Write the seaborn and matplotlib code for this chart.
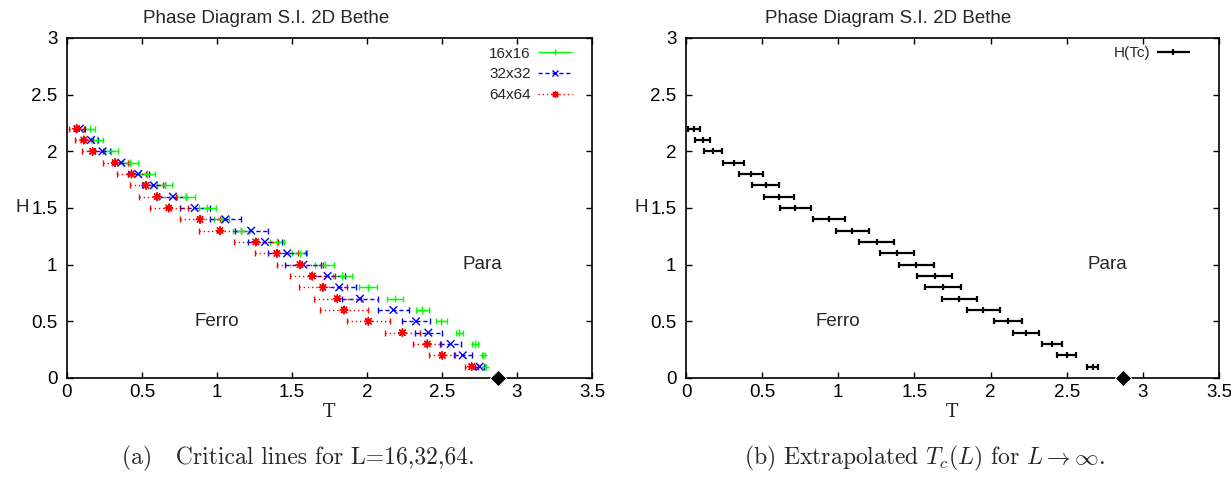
import matplotlib
matplotlib.use("Agg")
import matplotlib.pyplot as plt
import seaborn as sns
import pandas as pd
from matplotlib.legend_handler import HandlerErrorbar
from matplotlib.container import ErrorbarContainer

# %%
# Data (field H vs critical temperature T)
H = [2.2, 2.1, 2.0, 1.9, 1.8, 1.7, 1.6, 1.5, 1.4, 1.3, 1.2,
     1.1, 1.0, 0.9, 0.8, 0.7, 0.6, 0.5, 0.4, 0.3, 0.2, 0.1]

T16 = [0.15, 0.20, 0.295, 0.42, 0.535, 0.65, 0.795, 0.935, 1.03, 1.16, 1.40,
       1.553, 1.718, 1.836, 2.009, 2.184, 2.369, 2.496, 2.616, 2.722, 2.775, 2.785]
E16 = [0.035, 0.04, 0.045, 0.05, 0.05, 0.05, 0.06, 0.055, 0.05, 0.05, 0.045,
       0.05, 0.062, 0.065, 0.06, 0.053, 0.044, 0.039, 0.025, 0.02, 0.01, 0.008]

T32 = [0.085, 0.16, 0.237, 0.362, 0.475, 0.578, 0.706, 0.851, 1.055, 1.228, 1.32,
       1.468, 1.576, 1.737, 1.815, 1.953, 2.176, 2.327, 2.409, 2.558, 2.638, 2.751]
E32 = [0.035, 0.045, 0.05, 0.06, 0.07, 0.075, 0.09, 0.1, 0.105, 0.11, 0.115,
       0.125, 0.12, 0.115, 0.11, 0.12, 0.105, 0.096, 0.09, 0.07, 0.06, 0.03]

T64 = [0.065, 0.112, 0.171, 0.321, 0.43, 0.527, 0.601, 0.679, 0.887, 1.02, 1.259,
       1.399, 1.553, 1.635, 1.706, 1.802, 1.847, 2.009, 2.236, 2.402, 2.502, 2.698]
E64 = [0.05, 0.06, 0.071, 0.084, 0.096, 0.11, 0.124, 0.129, 0.133, 0.14, 0.145,
       0.144, 0.151, 0.149, 0.16, 0.156, 0.158, 0.142, 0.116, 0.093, 0.087, 0.044]

# extrapolated L -> infinity
Tinf = [0.055, 0.11, 0.177, 0.313, 0.425, 0.523, 0.61, 0.718, 0.939, 1.092, 1.252,
        1.385, 1.512, 1.633, 1.687, 1.793, 1.952, 2.114, 2.233, 2.405, 2.5, 2.672]
Einf = [0.039, 0.048, 0.058, 0.068, 0.08, 0.089, 0.096, 0.103, 0.106, 0.11, 0.113,
        0.113, 0.115, 0.115, 0.117, 0.115, 0.107, 0.094, 0.087, 0.067, 0.061, 0.036]

Tc = [2.87]
Hc = [0.0]

sizes = ["16x16", "32x32", "64x64"]
colors = {"16x16": "#00ff00", "32x32": "#0000ff", "64x64": "#ff0000"}
markers = {"16x16": "+", "32x32": "x", "64x64": (8, 2, 0)}
styles = {"16x16": "-", "32x32": (0, (3, 2)), "64x64": (0, (1, 2))}

df = pd.concat([
    pd.DataFrame({"T": T16, "H": H, "err": E16, "L": "16x16"}),
    pd.DataFrame({"T": T32, "H": H, "err": E32, "L": "32x32"}),
    pd.DataFrame({"T": T64, "H": H, "err": E64, "L": "64x64"}),
])
df_inf = pd.DataFrame({"T": Tinf, "H": H, "err": Einf})

# %%
sns.set_style("ticks")
plt.rcParams['font.family'] = ['Liberation Sans', 'DejaVu Sans']
plt.rcParams['mathtext.fontset'] = 'cm'
size = 13.5

fig = plt.figure(figsize=(12.31, 4.79), dpi=100)
ax1 = fig.add_axes([67/1231, 1-378/479, 525/1231, 340/479])
ax2 = fig.add_axes([686/1231, 1-378/479, 533/1231, 340/479])


def style_axis(ax):
    ax.set_xlim(0, 3.5)
    ax.set_ylim(0, 3)
    ax.set_xticks([0, 0.5, 1, 1.5, 2, 2.5, 3, 3.5])
    ax.set_xticklabels(["0", "0.5", "1", "1.5", "2", "2.5", "3", "3.5"])
    ax.set_yticks([0, 0.5, 1, 1.5, 2, 2.5, 3])
    ax.set_yticklabels(["0", "0.5", "1", "1.5", "2", "2.5", "3"])
    ax.tick_params(direction='in', top=True, right=True, length=4.5, width=1,
                   labelsize=size, colors='black')
    ax.tick_params(axis='y', pad=7)
    ax.tick_params(axis='x', pad=4)
    for sp in ax.spines.values():
        sp.set_linewidth(1.2)
        sp.set_color('black')
    ax.set_title("Phase Diagram S.I. 2D Bethe", fontsize=size, x=0.38, pad=11)
    ax.set_xlabel("T", fontsize=size, family='DejaVu Serif', labelpad=2)
    ax.set_ylabel("H", fontsize=size, rotation=0, labelpad=6, va='center')
    ax.text(2.77, 1.0, "Para", fontsize=size, ha='center', va='center')
    ax.text(1.0, 0.5, "Ferro", fontsize=size, ha='center', va='center')
    sns.scatterplot(x=Tc, y=Hc, marker='D', s=70, color='black', ax=ax,
                    clip_on=False, zorder=10, legend=False)


# %%
# left panel: finite size critical lines
handles = []
for L in sizes:
    d = df[df.L == L]
    cont = ax1.errorbar(d["T"], d["H"], xerr=d["err"], fmt='none', ecolor=colors[L],
                        elinewidth=1, capsize=2.5, capthick=1)
    cont[2][0].set_linestyle(styles[L])
    # empty errorbar only used as legend handle
    proxy = ax1.errorbar([], [], xerr=[], marker=markers[L], ls='none',
                         color=colors[L], ms=5, mew=1, elinewidth=1, capsize=2.5,
                         capthick=1)
    proxy[2][0].set_linestyle(styles[L])
    handles.append(proxy)

sns.scatterplot(data=df, x="T", y="H", hue="L", style="L", palette=colors,
                markers=markers, s=30, linewidth=1, legend=False, ax=ax1, zorder=5)

ax1.legend(handles, sizes, loc='upper right', bbox_to_anchor=(0.962, 0.975),
           frameon=False, markerfirst=False, fontsize=size - 2.5,
           handlelength=2.2, handletextpad=0.5, labelspacing=0.45,
           borderaxespad=0, borderpad=0,
           handler_map={ErrorbarContainer: HandlerErrorbar(xerr_size=1.1)})
style_axis(ax1)

# %%
# right panel: extrapolated Tc(L)
ax2.errorbar(df_inf["T"], df_inf["H"], xerr=df_inf["err"], fmt='none', ecolor='black',
             elinewidth=1.6, capsize=2.5, capthick=1.6)
sns.scatterplot(data=df_inf, x="T", y="H", marker='|', s=25, color='black',
                linewidth=1.6, legend=False, ax=ax2, zorder=5)
proxy = ax2.errorbar([], [], xerr=[], marker='|', ls='none', color='black', ms=5,
                     mew=1.6, elinewidth=1.6, capsize=2.5, capthick=1.6)
ax2.legend([proxy], ["H(Tc)"], loc='upper right', bbox_to_anchor=(0.946, 0.975),
           frameon=False, markerfirst=False, fontsize=size - 2.5,
           handlelength=2.2, handletextpad=0.4, borderaxespad=0, borderpad=0,
           handler_map={ErrorbarContainer: HandlerErrorbar(xerr_size=1.1)})
style_axis(ax2)

# %%
# captions
fig.text(298/1231, 1-458/479, "(a)   Critical lines for L=16,32,64.", family='cmr10',
         fontsize=17, ha='center', va='center')
fig.text(924/1231, 1-458/479, r"(b) Extrapolated $T_c(L)$ for $L \rightarrow \infty$.",
         family='cmr10', fontsize=17, ha='center', va='center')

fig.savefig("out.png", dpi=100)
